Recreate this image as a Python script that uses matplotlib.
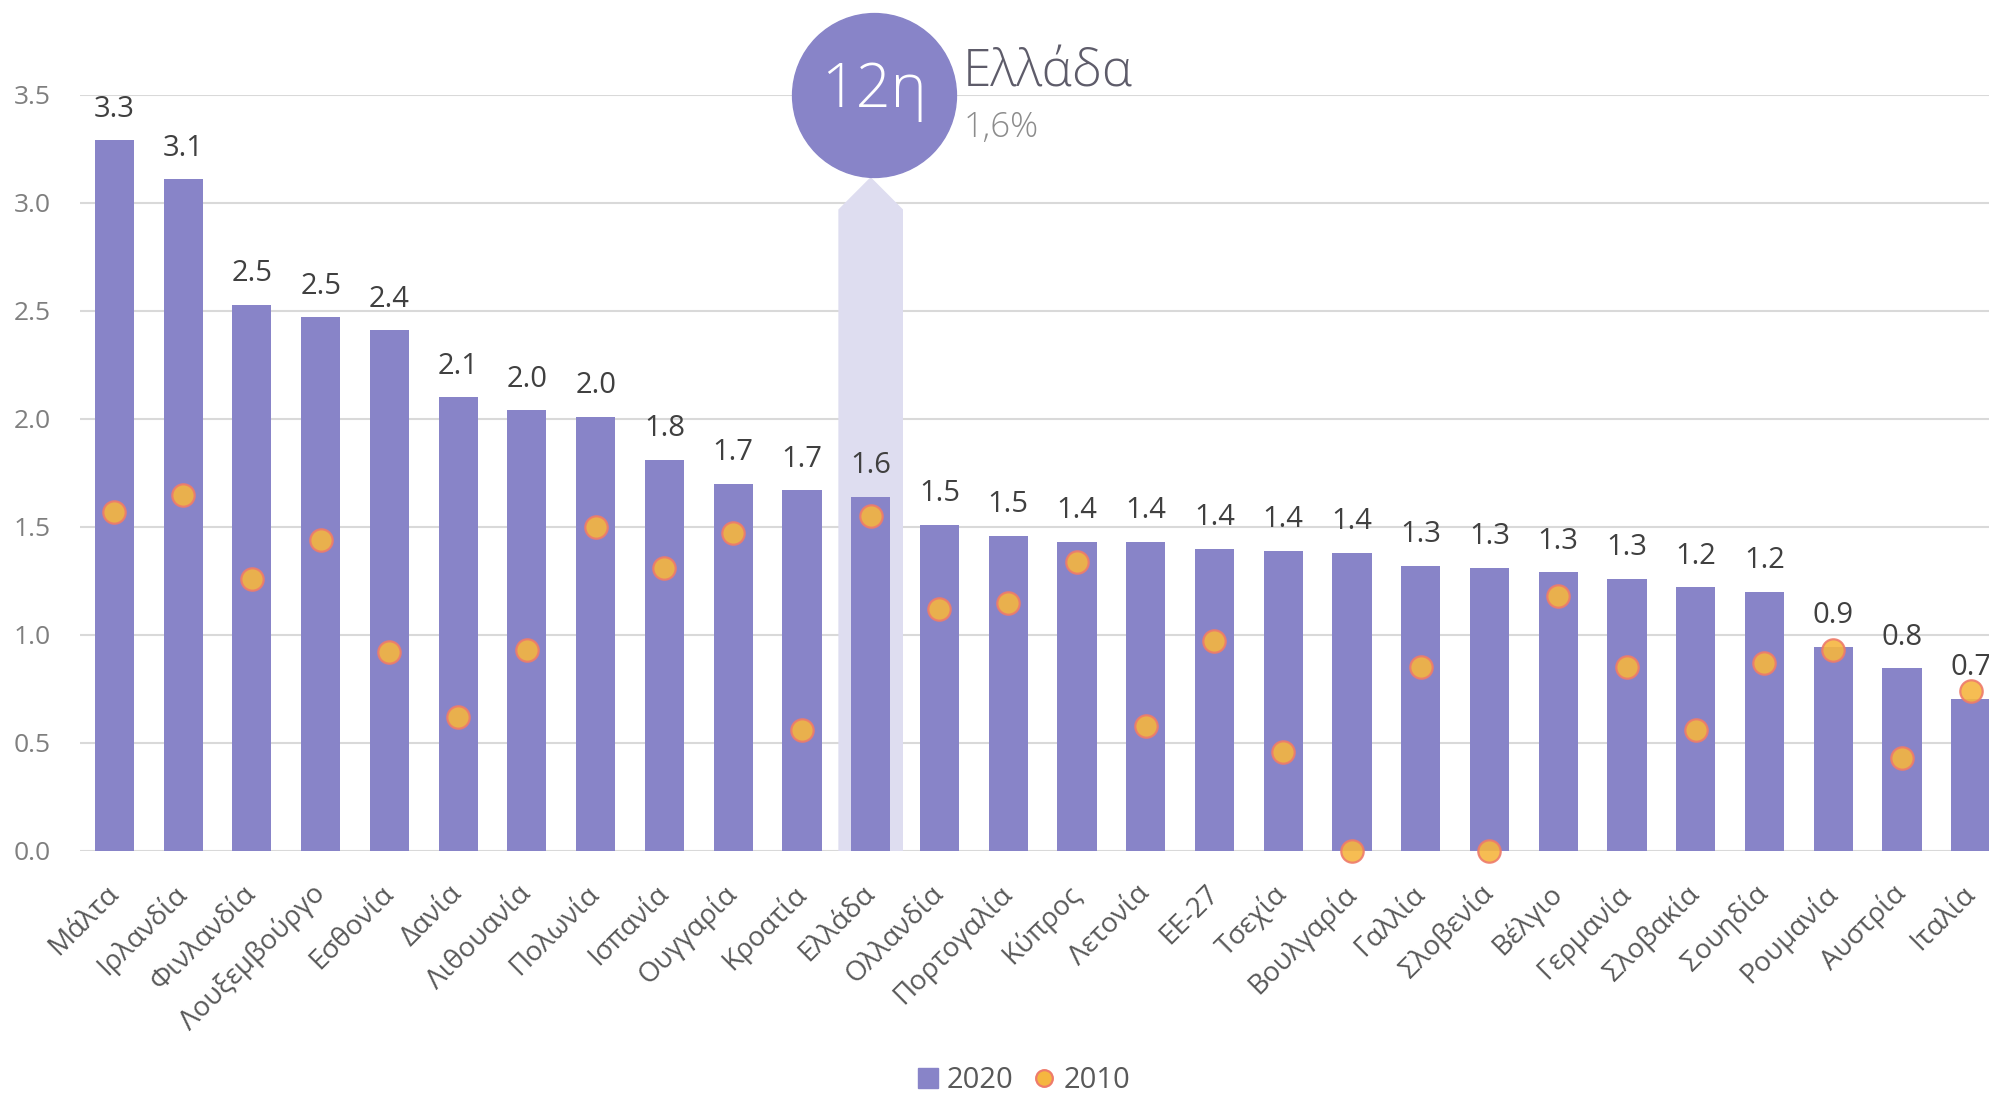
import matplotlib
matplotlib.use("Agg")
import matplotlib.pyplot as plt
from matplotlib.patches import Polygon
from matplotlib.lines import Line2D
import numpy as np

plt.rcParams['font.family'] = ['Open Sans', 'DejaVu Sans']

countries = ["Μάλτα", "Ιρλανδία", "Φινλανδία", "Λουξεμβούργο", "Εσθονία", "Δανία",
             "Λιθουανία", "Πολωνία", "Ισπανία", "Ουγγαρία", "Κροατία", "Ελλάδα",
             "Ολλανδία", "Πορτογαλία", "Κύπρος", "Λετονία", "ΕΕ-27", "Τσεχία",
             "Βουλγαρία", "Γαλλία", "Σλοβενία", "Βέλγιο", "Γερμανία", "Σλοβακία",
             "Σουηδία", "Ρουμανία", "Αυστρία", "Ιταλία"]
vals_2020 = [3.29, 3.11, 2.53, 2.47, 2.41, 2.10, 2.04, 2.01, 1.81, 1.70, 1.67, 1.64,
             1.51, 1.46, 1.43, 1.43, 1.40, 1.39, 1.38, 1.32, 1.31, 1.29, 1.26, 1.22,
             1.20, 0.945, 0.845, 0.705]
vals_2010 = [1.57, 1.65, 1.26, 1.44, 0.92, 0.62, 0.93, 1.50, 1.31, 1.47, 0.56, 1.55,
             1.12, 1.15, 1.34, 0.58, 0.97, 0.46, 0.0, 0.85, 0.0, 1.18, 0.85, 0.56,
             0.87, 0.93, 0.43, 0.74]
highlight = "Ελλάδα"
rank_label = "12η"

bar_color = "#8884C8"
band_color = "#DEDDF0"
dot_face = "#F5B640"
dot_edge = "#EE7B6B"
grid_color = "#D9D9D9"

fig = plt.figure(figsize=(19.9, 10.95), dpi=100)
ax = fig.add_axes([80 / 1990, 1 - 851 / 1095, 1 - 80 / 1990, (851 - 95) / 1095])

x = np.arange(len(countries))
hi = countries.index(highlight)

# highlight band behind Greece
w = 0.47
band = Polygon([(hi - w, 0), (hi - w, 2.97), (hi, 3.12), (hi + w, 2.97), (hi + w, 0)],
               closed=True, facecolor=band_color, edgecolor="none", zorder=1)
ax.add_patch(band)

ax.bar(x, vals_2020, width=0.57, color=bar_color, zorder=2)
ax.scatter(x, vals_2010, s=260, color=dot_face, edgecolor=dot_edge, linewidth=1.6,
           alpha=0.9, zorder=4, clip_on=False)

for xi, v in zip(x, vals_2020):
    ax.annotate(f"{v:.1f}", (xi, v), xytext=(0, 12), textcoords="offset points",
                ha="center", va="bottom", fontsize=21, color="#404040",
                annotation_clip=False)

ax.set_xlim(-0.5, 27.28)
ax.set_ylim(0, 3.5)
ax.set_yticks(np.arange(0, 3.51, 0.5))
ax.set_yticklabels([f"{t:.1f}" for t in np.arange(0, 3.51, 0.5)])
ax.yaxis.grid(True, color=grid_color, linewidth=1.5, zorder=0)
ax.set_axisbelow(True)
for s in ax.spines.values():
    s.set_visible(False)
ax.tick_params(axis="y", length=0, pad=21, labelsize=19, labelcolor="#7F7F7F")
ax.tick_params(axis="x", length=0, pad=28)
ax.set_xticks(x)
ax.set_xticklabels(countries, rotation=45, ha="right", va="center", rotation_mode="anchor",
                   fontsize=20, color="#595959")

# callout circle
ax.scatter([hi + 0.05], [3.5], s=118 ** 2, color=bar_color, zorder=6, clip_on=False)
ax.annotate(rank_label, (hi + 0.05, 3.5), xytext=(0, 3), textcoords="offset points",
            ha="center", va="center", fontsize=44, fontweight="light", color="white",
            zorder=7, annotation_clip=False)
ax.annotate(highlight, (hi, 3.5), xytext=(66, 6), textcoords="offset points",
            ha="left", va="baseline", fontsize=37, fontweight="light", color="#5E5C6A",
            annotation_clip=False)
ax.annotate(f"{vals_2020[hi]:.1f}%".replace(".", ","), (hi, 3.5), xytext=(67, -30),
            textcoords="offset points", ha="left", va="baseline", fontsize=25,
            fontweight="light", color="#8C8C8C", annotation_clip=False)

handles = [Line2D([], [], marker="s", linestyle="none", markersize=14, color=bar_color),
           Line2D([], [], marker="o", linestyle="none", markersize=12,
                  markerfacecolor=dot_face, markeredgecolor=dot_edge, markeredgewidth=1.6)]
fig.legend(handles, ["2020", "2010"], loc="center", bbox_to_anchor=(1018 / 1990, 1 - 1081 / 1095),
           ncol=2, frameon=False, fontsize=21, labelcolor="#595959", handletextpad=-0.1,
           columnspacing=0.3, handlelength=1.5)

fig.savefig("out.png", dpi=100)
